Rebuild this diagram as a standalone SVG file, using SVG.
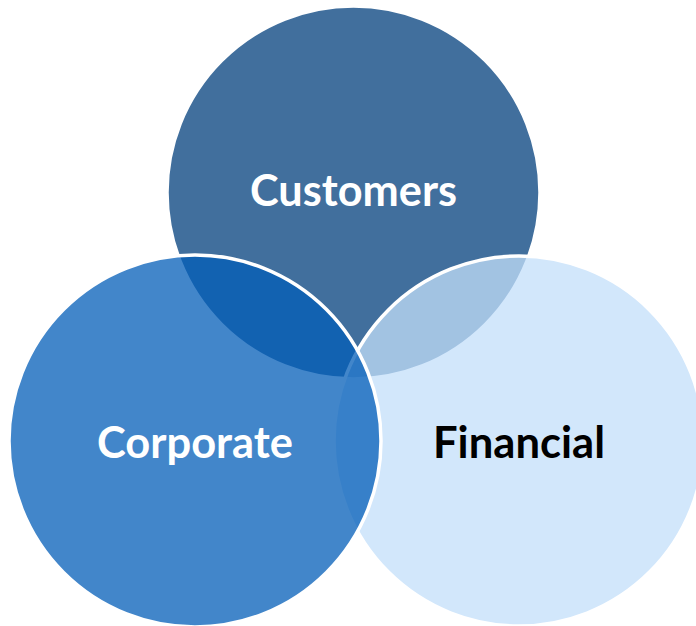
<svg xmlns="http://www.w3.org/2000/svg" width="696" height="626" viewBox="0 0 696 626">
  <style>
    .ring { stroke: #FFFFFF; stroke-width: 3.5; }
    .c-top { fill: #416F9D; }
    .c-right { fill: #C3DFFA; fill-opacity: 0.75; }
    .c-left { fill: #035EB8; fill-opacity: 0.75; }
    .label { font-family: Lato, "Open Sans", "Liberation Sans", sans-serif; font-weight: bold; font-size: 44px; text-anchor: middle; }
    .light { fill: #FFFFFF; }
    .dark { fill: #000000; }
  </style>
  <rect width="696" height="626" fill="#FFFFFF"/>

  <!-- Venn set drawn back to front: Customers, Financial, Corporate -->
  <g id="customers">
    <circle class="ring c-top" cx="353.5" cy="192.5" r="186.5"/>
    <text class="label light" x="353.5" y="206" textLength="207" lengthAdjust="spacingAndGlyphs">Customers</text>
  </g>

  <g id="financial">
    <circle class="ring c-right" cx="519" cy="441" r="185"/>
    <text class="label dark" x="519" y="458" textLength="172" lengthAdjust="spacingAndGlyphs">Financial</text>
  </g>

  <g id="corporate">
    <circle class="ring c-left" cx="195" cy="441" r="186"/>
    <text class="label light" x="195" y="458" textLength="196" lengthAdjust="spacingAndGlyphs">Corporate</text>
  </g>
</svg>
